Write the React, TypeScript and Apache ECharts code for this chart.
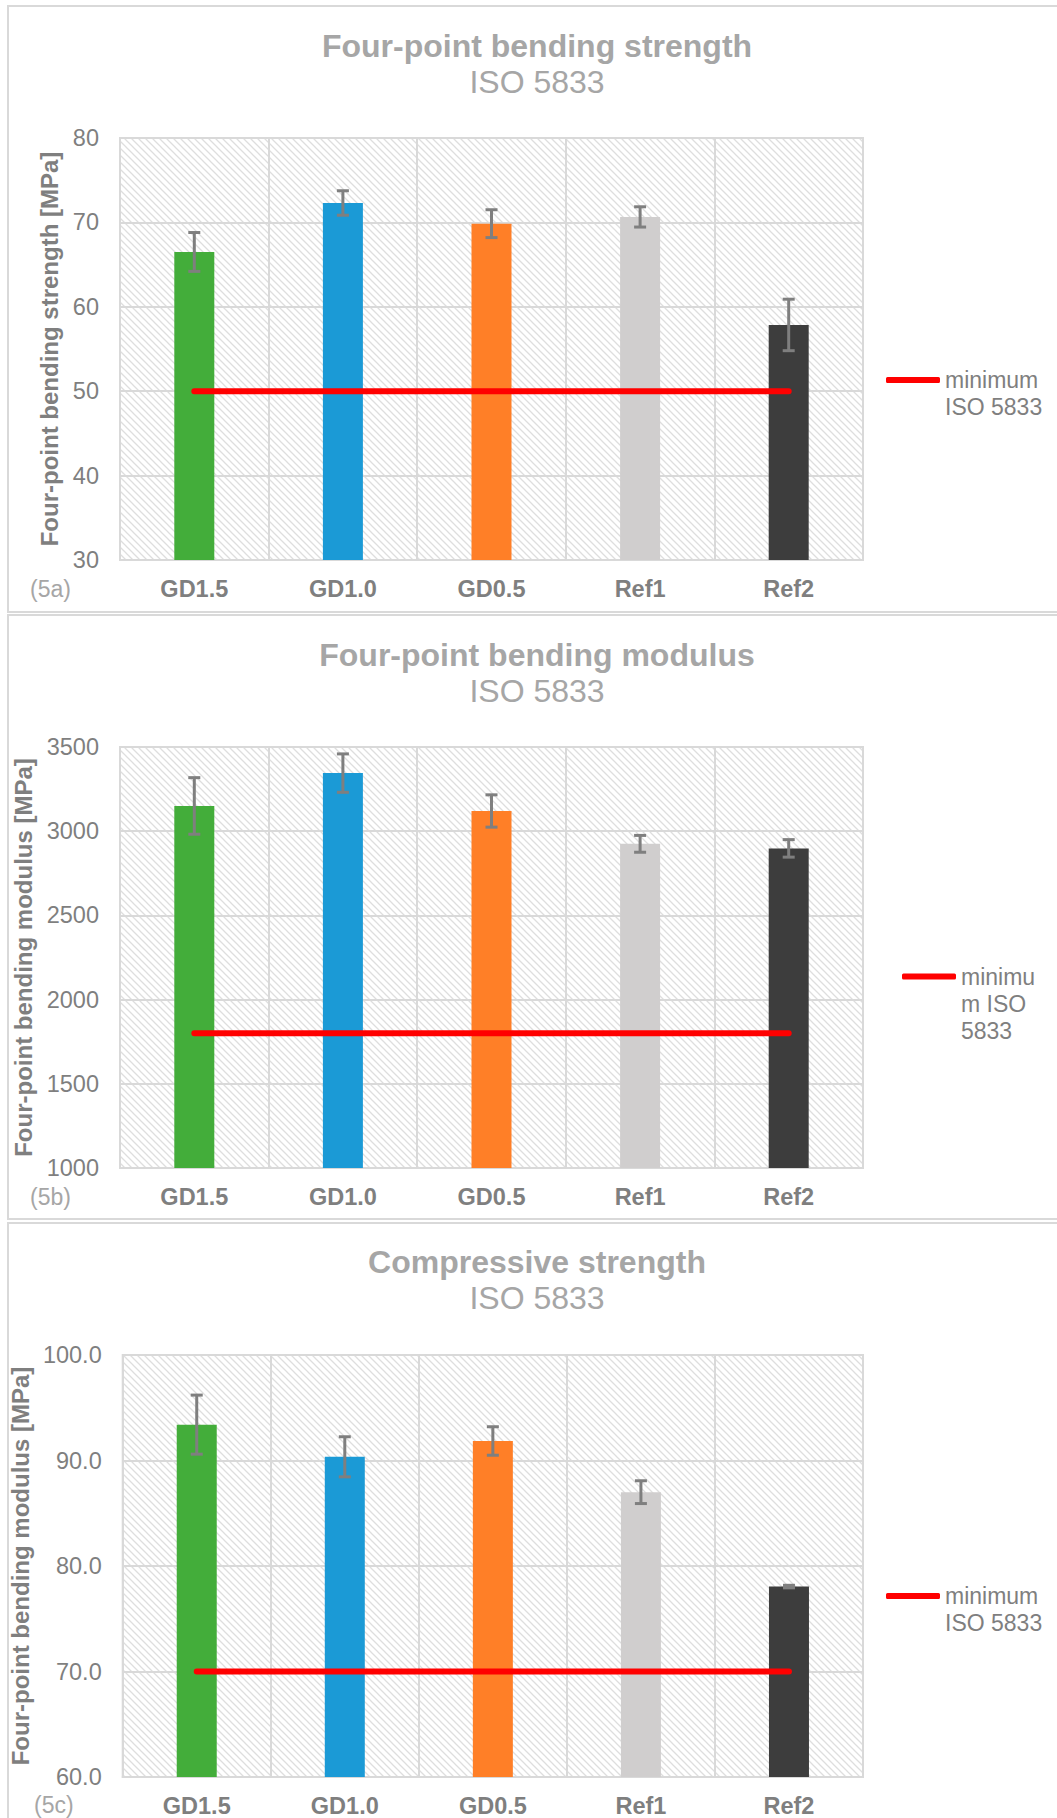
import React, { useEffect, useRef } from "react";
import * as echarts from "echarts";

const categories = ["GD1.5", "GD1.0", "GD0.5", "Ref1", "Ref2"];
const barColors = ["#43ad3a", "#1b9ad6", "#ff7f27", "#d0cece", "#3d3d3d"];

const strengthMeans = [66.5, 72.3, 69.85, 70.65, 57.85];
const strengthErr = [2.3, 1.45, 1.65, 1.2, 3.05];
const strengthMin = 50;

const modulusMeans = [3150, 3345, 3120, 2925, 2898];
const modulusErr = [168, 114, 96, 50, 52];
const modulusMin = 1800;

const compMeans = [93.4, 90.35, 91.85, 87.0, 78.05];
const compErr = [2.8, 1.9, 1.35, 1.08, 0.12];
const compMin = 70;

const titles = ["Four-point bending strength", "Four-point bending modulus", "Compressive strength"];
const subtitle = "ISO 5833";
const yNames = [
  "Four-point bending strength [MPa]",
  "Four-point bending modulus [MPa]",
  "Four-point bending modulus [MPa]",
];
const panelTags = ["(5a)", "(5b)", "(5c)"];
const minName = "minimum ISO 5833";

const FONT = "'Liberation Sans', Arial, sans-serif";

const T = 7;
const hatchSvg =
  `<svg xmlns='http://www.w3.org/2000/svg' width='${T}' height='${T}'>` +
  `<path d='M-1,-1 L${T + 1},${T + 1} M-2,${T - 2} L2,${T + 2} M${T - 2},-2 L${T + 2},2' stroke='#dedede' stroke-width='1.3' fill='none'/></svg>`;
const hatchUrl = "data:image/svg+xml;charset=utf-8," + encodeURIComponent(hatchSvg);

export default function App() {
  const ref = useRef<HTMLDivElement>(null);
  useEffect(() => {
    if (!ref.current) return;
    const chart = echarts.init(ref.current, null, { renderer: "svg" });

    const panels = [
      { means: strengthMeans, err: strengthErr, min: strengthMin, yMin: 30, yMax: 80, step: 10, dec: 0, gridTop: 138, gridH: 422, titleTop: 30, nameGap: 56, border: [6, 606], tagY: 589, legendLeft: 886, iconY: 380, legendText: "\nminimum\nISO 5833", lines: 3, tagX: 30 },
      { means: modulusMeans, err: modulusErr, min: modulusMin, yMin: 1000, yMax: 3500, step: 500, dec: 0, gridTop: 747, gridH: 421, titleTop: 638.5, nameGap: 80, border: [615, 604], tagY: 1197, legendLeft: 902, iconY: 976.5, legendText: "\n\nminimu\nm ISO\n5833", lines: 5, tagX: 30 },
      { means: compMeans, err: compErr, min: compMin, yMin: 60, yMax: 100, step: 10, dec: 1, gridTop: 1355, gridH: 422, titleTop: 1246, nameGap: 80, border: [1223, 620], tagY: 1805, legendLeft: 886, iconY: 1596, legendText: "\nminimum\nISO 5833", lines: 3, tagX: 34 },
    ];

    const LH = 27;
    const option: any = {
      animation: false,
      backgroundColor: "#ffffff",
      title: panels.map((p, i) => ({
        text: titles[i],
        subtext: subtitle,
        left: 537,
        top: p.titleTop,
        textAlign: "center",
        padding: 0,
        itemGap: 4,
        textStyle: { fontFamily: FONT, fontSize: 32, fontWeight: "bold", color: "#a6a6a6", lineHeight: 32 },
        subtextStyle: { fontFamily: FONT, fontSize: 32, fontWeight: "normal", color: "#a6a6a6", lineHeight: 32 },
      })),
      legend: panels.map((p) => ({
        data: [{ name: minName, icon: "roundRect" }],
        left: p.legendLeft,
        top: p.iconY - (p.lines * LH) / 2,
        padding: 0,
        orient: "vertical",
        selectedMode: false,
        itemWidth: 54,
        itemHeight: 6,
        formatter: () => p.legendText,
        textStyle: {
          fontFamily: FONT,
          fontSize: 23,
          color: "#7f7f7f",
          lineHeight: LH,
        },
      })),
      grid: panels.map((p) => ({
        left: 120,
        top: p.gridTop,
        width: 743,
        height: p.gridH,
        show: true,
        backgroundColor: { image: hatchUrl, imageWidth: T, imageHeight: T, repeat: "repeat" },
        borderColor: "#d9d9d9",
        borderWidth: 2,
      })),
      xAxis: panels.map((p, i) => ({
        type: "category",
        gridIndex: i,
        data: categories,
        axisLine: { show: true, lineStyle: { color: "#d9d9d9", width: 2 } },
        axisTick: { show: false },
        axisLabel: {
          interval: 0,
          margin: 17,
          fontFamily: FONT,
          fontSize: 23.5,
          fontWeight: "bold",
          color: "#7f7f7f",
        },
        splitLine: { show: true, interval: 0, lineStyle: { color: "#d9d9d9", width: 2 } },
      })),
      yAxis: panels.map((p, i) => ({
        type: "value",
        gridIndex: i,
        min: p.yMin,
        max: p.yMax,
        interval: p.step,
        name: yNames[i],
        nameLocation: "middle",
        nameGap: p.nameGap,
        nameTextStyle: { fontFamily: FONT, fontSize: 24, fontWeight: "bold", color: "#7f7f7f" },
        axisLine: { show: false },
        axisTick: { show: false },
        axisLabel: {
          margin: 21,
          fontFamily: FONT,
          fontSize: 23.5,
          color: "#7f7f7f",
          formatter: (v: number) => v.toFixed(p.dec),
        },
        splitLine: { show: true, lineStyle: { color: "#d9d9d9", width: 2 } },
      })),
      series: panels.flatMap((p, i) => [
        {
          type: "bar",
          name: "values" + i,
          xAxisIndex: i,
          yAxisIndex: i,
          barWidth: 40,
          clip: true,
          data: p.means.map((v, k) => ({ value: v, itemStyle: { color: barColors[k] } })),
        },
        {
          type: "custom",
          name: "err" + i,
          xAxisIndex: i,
          yAxisIndex: i,
          data: p.means.map((v, k) => [k, v - p.err[k], v + p.err[k]]),
          renderItem: (params: any, api: any) => {
            const x = api.value(0);
            const lo = api.coord([x, api.value(1)]);
            const hi = api.coord([x, api.value(2)]);
            const h = 6;
            const st = { stroke: "#7f7f7f", lineWidth: 3 };
            return {
              type: "group",
              children: [
                { type: "line", shape: { x1: lo[0], y1: lo[1], x2: hi[0], y2: hi[1] }, style: st },
                { type: "line", shape: { x1: hi[0] - h, y1: hi[1], x2: hi[0] + h, y2: hi[1] }, style: st },
                { type: "line", shape: { x1: lo[0] - h, y1: lo[1], x2: lo[0] + h, y2: lo[1] }, style: st },
              ],
            };
          },
          z: 3,
        },
        {
          type: "line",
          name: minName,
          xAxisIndex: i,
          yAxisIndex: i,
          data: categories.map(() => p.min),
          symbol: "none",
          showSymbol: false,
          lineStyle: { color: "#ff0000", width: 6, cap: "round" },
          itemStyle: { color: "#ff0000" },
          z: 4,
        },
      ]),
      graphic: [
        ...panels.map((p) => ({
          type: "rect",
          silent: true,
          shape: { x: 8, y: p.border[0], width: 1060, height: p.border[1] },
          style: { fill: "none", stroke: "#d9d9d9", lineWidth: 2 },
          z: -10,
        })),
        ...panels.map((p, i) => ({
          type: "text",
          silent: true,
          x: p.tagX,
          y: p.tagY,
          style: {
            text: panelTags[i],
            fontFamily: FONT,
            fontSize: 23,
            fill: "#a6a6a6",
            verticalAlign: "middle",
            align: "left",
          },
        })),
      ],
    };

    chart.setOption(option);
    return () => chart.dispose();
  }, []);

  return (
    <div
      ref={ref}
      style={{ position: "absolute", left: 0, top: 0, width: 1057, height: 1818 }}
    />
  );
}
